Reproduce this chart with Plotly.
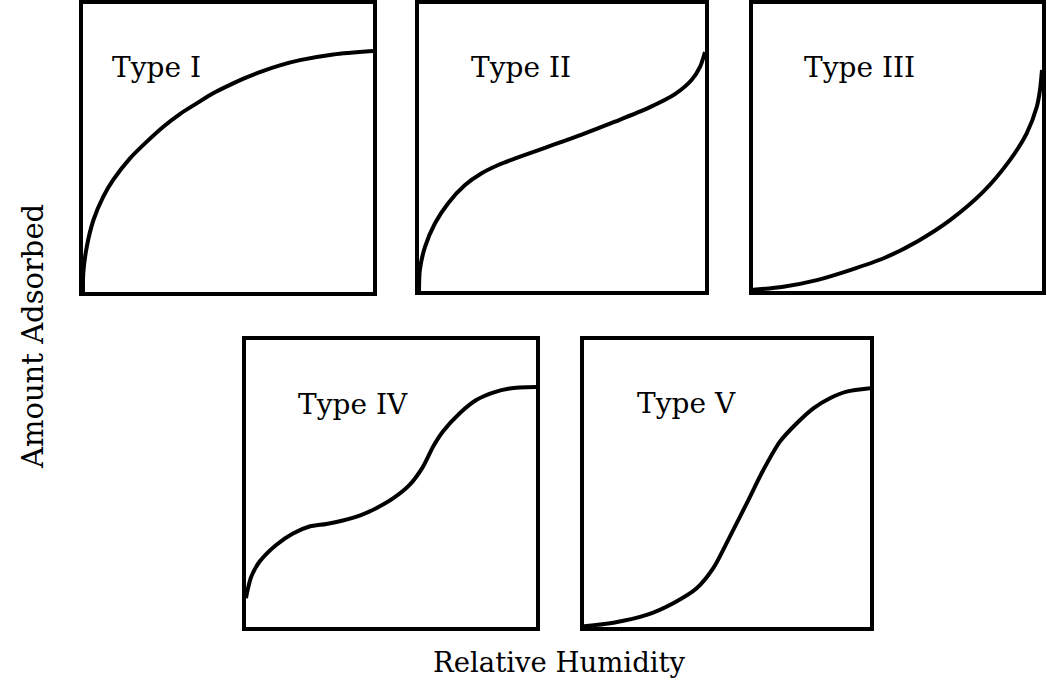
import plotly.graph_objects as go

W, H = 1047, 687

# Data (normalized relative humidity, normalized amount adsorbed)
type1_x = [0, 0.001, 0.013, 0.036, 0.07, 0.104, 0.162, 0.22, 0.277, 0.334, 0.392, 0.449, 0.507,
           0.564, 0.622, 0.679, 0.748, 0.863, 1.0]
type1_y = [0, 0.066, 0.157, 0.25, 0.331, 0.389, 0.464, 0.522, 0.574, 0.618, 0.655, 0.69, 0.719,
           0.745, 0.768, 0.787, 0.805, 0.825, 0.837]

type2_x = [0, 0.003, 0.021, 0.056, 0.102, 0.161, 0.219, 0.277, 0.336, 0.452, 0.569, 0.685,
           0.802, 0.895, 0.953, 0.983, 1.0]
type2_y = [0, 0.073, 0.154, 0.236, 0.306, 0.369, 0.41, 0.439, 0.462, 0.503, 0.545, 0.59,
           0.638, 0.686, 0.735, 0.782, 0.833]

type3_x = [0, 0.105, 0.221, 0.336, 0.452, 0.567, 0.682, 0.797, 0.889, 0.947, 0.982, 0.993, 1.0]
type3_y = [0.004, 0.015, 0.038, 0.073, 0.114, 0.172, 0.247, 0.346, 0.456, 0.549, 0.642, 0.70, 0.77]

type4_x = [0, 0.003, 0.018, 0.047, 0.104, 0.162, 0.219, 0.277, 0.334, 0.392, 0.449, 0.507,
           0.564, 0.61, 0.645, 0.679, 0.737, 0.794, 0.852, 0.909, 1.0]
type4_y = [0.10, 0.117, 0.175, 0.228, 0.286, 0.326, 0.35, 0.359, 0.371, 0.388, 0.414, 0.448,
           0.495, 0.558, 0.628, 0.681, 0.745, 0.791, 0.817, 0.831, 0.836]

type5_x = [0, 0.103, 0.219, 0.312, 0.394, 0.452, 0.51, 0.569, 0.627, 0.685, 0.744, 0.802,
           0.86, 0.918, 1.0]
type5_y = [0.003, 0.015, 0.042, 0.083, 0.135, 0.205, 0.315, 0.431, 0.547, 0.646, 0.71, 0.762,
           0.797, 0.82, 0.832]

labels = ["Type I", "Type II", "Type III", "Type IV", "Type V"]
label_x = [0.093, 0.175, 0.171, 0.172, 0.18]
label_y = [0.78, 0.78, 0.78, 0.774, 0.78]

series = [(type1_x, type1_y), (type2_x, type2_y), (type3_x, type3_y),
          (type4_x, type4_y), (type5_x, type5_y)]

# panel boxes in pixels: (left, right, top, bottom)
boxes = [(83, 373, 4, 292), (419, 705, 4, 291), (753, 1042, 4, 291),
         (246, 536, 340, 627), (584, 870, 340, 627)]

fig = go.Figure()
FONT = "DejaVu Serif"

for i, ((xs, ys), (l, r, t, b)) in enumerate(zip(series, boxes)):
    n = "" if i == 0 else str(i + 1)
    fig.add_trace(go.Scatter(x=xs, y=ys, mode="lines",
                             line=dict(color="black", width=4, shape="spline", smoothing=0.8),
                             xaxis="x" + n, yaxis="y" + n, showlegend=False,
                             hoverinfo="skip"))
    ax = dict(domain=[l / W, r / W], range=[0, 1], showgrid=False, zeroline=False,
              showticklabels=False, ticks="", showline=True, linewidth=3.5,
              linecolor="black", mirror=True, fixedrange=True)
    ay = dict(domain=[1 - b / H, 1 - t / H], range=[0, 1], showgrid=False, zeroline=False,
              showticklabels=False, ticks="", showline=True, linewidth=3.5,
              linecolor="black", mirror=True, fixedrange=True)
    ax["anchor"] = "y" + n
    ay["anchor"] = "x" + n
    fig.update_layout(**{"xaxis" + n: ax, "yaxis" + n: ay})
    fig.add_annotation(text=labels[i], x=label_x[i], y=label_y[i],
                       xref="x" + n + " domain", yref="y" + n + " domain",
                       xanchor="left", yanchor="middle", showarrow=False,
                       font=dict(family=FONT, size=28, color="black"))

fig.add_annotation(text="Relative Humidity", x=559 / W, y=1 - 662 / H,
                   xref="paper", yref="paper", showarrow=False,
                   xanchor="center", yanchor="middle",
                   font=dict(family=FONT, size=27.5, color="black"))
fig.add_annotation(text="Amount Adsorbed", x=33 / W, y=1 - 337 / H,
                   xref="paper", yref="paper", showarrow=False, textangle=-90,
                   xanchor="center", yanchor="middle",
                   font=dict(family=FONT, size=29, color="black"))

fig.update_layout(width=W, height=H, margin=dict(l=0, r=0, t=0, b=0),
                  paper_bgcolor="white", plot_bgcolor="white")

fig.write_html("out.html", config={"displayModeBar": False},
               post_script="document.body.style.margin='0';document.body.style.overflow='hidden';")
